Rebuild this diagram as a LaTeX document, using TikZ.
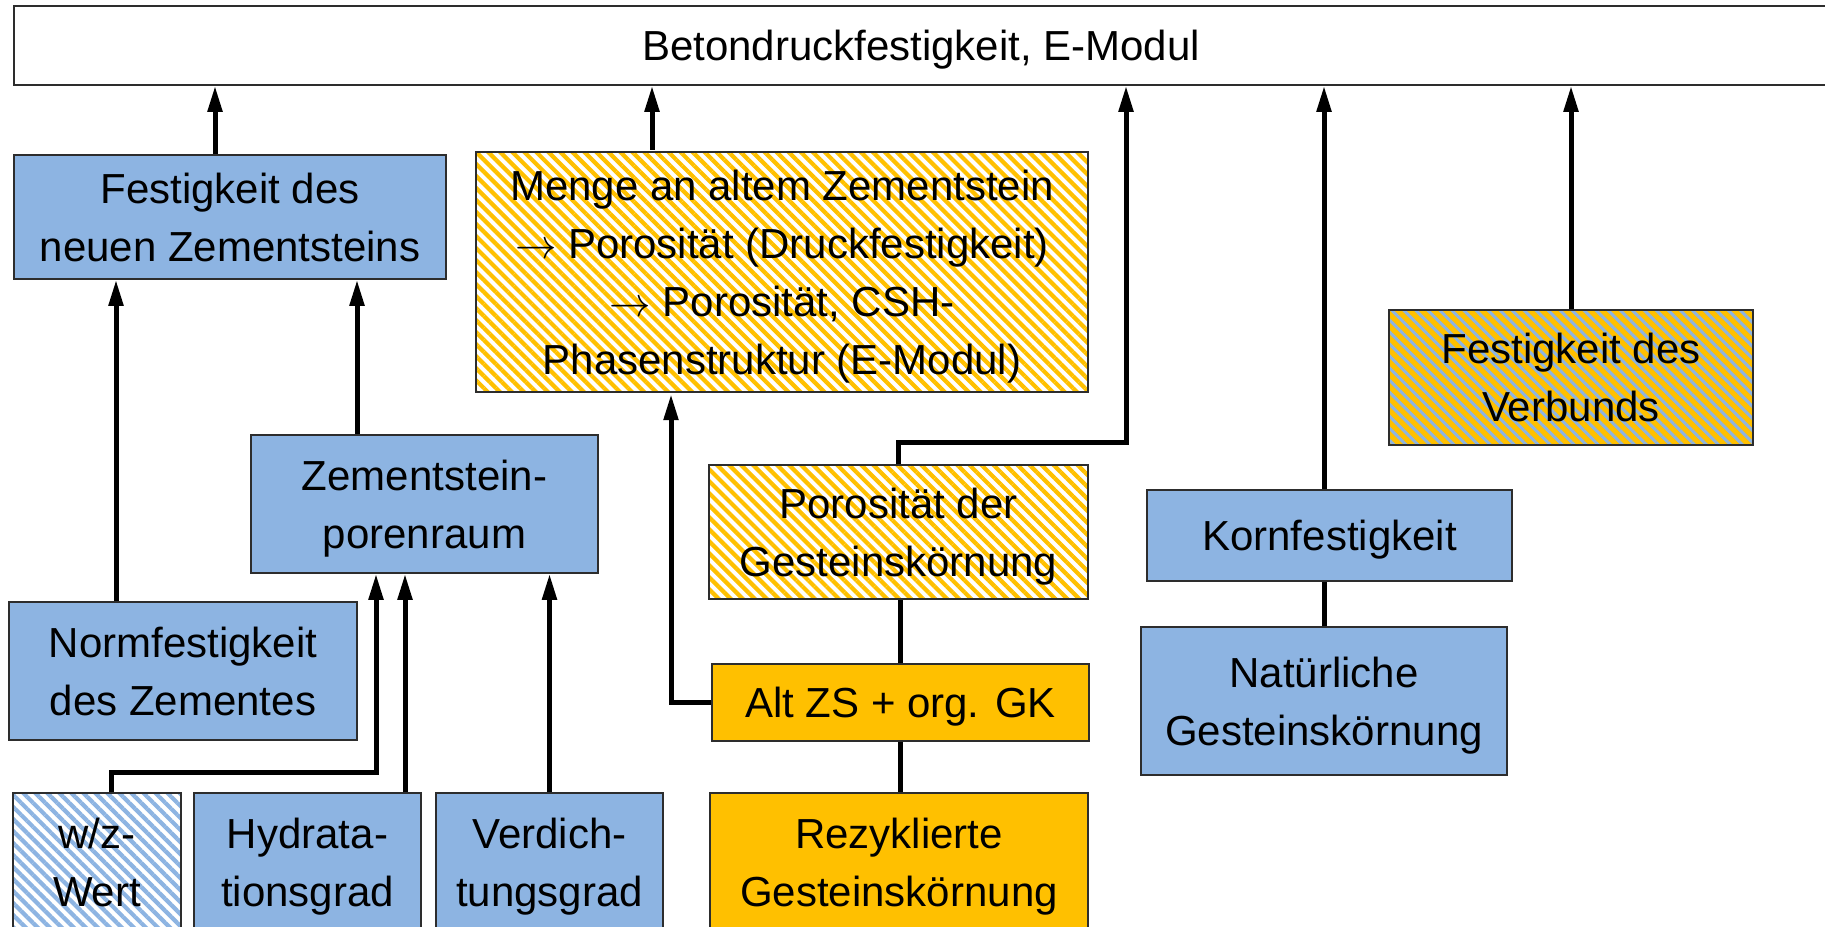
\documentclass[tikz,border=0pt]{standalone}
\usepackage{fontspec}
\setmainfont{Liberation Sans}
\usetikzlibrary{arrows.meta,patterns.meta}
\definecolor{blau}{RGB}{141,180,226}
\definecolor{gelb}{RGB}{255,192,0}
\definecolor{rahmen}{RGB}{45,45,45}

\begin{document}
\begin{tikzpicture}[x=0.5pt,y=-0.5pt,
	kasten/.style={draw=rahmen,line width=0.75pt,inner sep=0pt,align=center,text depth=0pt,font=\fontsize{21}{29}\selectfont},
	blaukasten/.style={kasten,fill=blau},
	gelbkasten/.style={kasten,fill=gelb},
	gelbschraffur/.style={kasten,preaction={fill=white},pattern={Lines[angle=-45,distance=4.25pt,line width=2.1pt]},pattern color=gelb},
	blauschraffur/.style={kasten,preaction={fill=white},pattern={Lines[angle=-45,distance=4.25pt,line width=2.1pt]},pattern color=blau},
	mischschraffur/.style={kasten,preaction={fill=gelb},pattern={Lines[angle=-45,distance=4.25pt,line width=1.5pt]},pattern color=blau},
	pfeil/.style={line width=2.5pt,-{Triangle[length=13pt,width=7pt]}},
	linie/.style={line width=2.5pt}]
	\useasboundingbox (0,0) rectangle (1825,926);
	
	%Shape: Rectangle [top]
	\node[kasten,minimum width=907pt,minimum height=39.5pt] (beton) at (921,45.5) {Betondruckfestigkeit, E-Modul};
	
	%Shape: Rectangle [row 1]
	\node[blaukasten,minimum width=216pt,minimum height=62pt] (neu) at (230,217) {Festigkeit des\\neuen Zementsteins};
	\node[gelbschraffur,minimum width=306pt,minimum height=120pt] (menge) at (782,272) {Menge an altem Zementstein\\$\rightarrow$ Porosität (Druckfestigkeit)\\$\rightarrow$ Porosität, CSH-\\Phasenstruktur (E-Modul)};
	\node[mischschraffur,minimum width=182pt,minimum height=67.5pt] (verbund) at (1571,377.5) {Festigkeit des\\Verbunds};
	
	%Shape: Rectangle [row 2]
	\node[blaukasten,minimum width=173.5pt,minimum height=69pt] (poren) at (424.5,504) {Zementstein-\\porenraum};
	\node[gelbschraffur,minimum width=189.5pt,minimum height=67pt] (poros) at (898.5,532) {Porosität der\\Gesteinskörnung};
	\node[blaukasten,minimum width=182.5pt,minimum height=45.5pt] (korn) at (1329.5,535.5) {Kornfestigkeit};
	
	%Shape: Rectangle [row 3]
	\node[blaukasten,minimum width=174pt,minimum height=69pt] (norm) at (183,671) {Normfestigkeit\\des Zementes};
	\node[gelbkasten,minimum width=188.5pt,minimum height=38.5pt] (altzs) at (900.5,702.5) {Alt ZS + org. GK};
	\node[blaukasten,minimum width=183pt,minimum height=74pt] (natur) at (1324,701) {Natürliche\\Gesteinskörnung};
	
	%Shape: Rectangle [row 4]
	\node[blauschraffur,minimum width=84pt,minimum height=69pt] (wz) at (97,862) {w/z-\\Wert};
	\node[blaukasten,minimum width=113.5pt,minimum height=69pt] (hydra) at (307.5,862) {Hydrata-\\tionsgrad};
	\node[blaukasten,minimum width=113.5pt,minimum height=69pt] (verd) at (549.5,862) {Verdich-\\tungsgrad};
	\node[gelbkasten,minimum width=189pt,minimum height=69pt] (rezyk) at (899,862) {Rezyklierte\\Gesteinskörnung};
	
	%Straight Lines [to top]
	\draw[pfeil] ([xshift=-7.5pt]neu.north) -- ([xshift=-7.5pt]neu.north |- beton.south);
	\draw[pfeil] ([xshift=-65pt]menge.north) -- ([xshift=-65pt]menge.north |- beton.south);
	\coordinate (porosknick) at (1126,442);
	\draw[pfeil] (poros.north) |- (porosknick) -- (porosknick |- beton.south);
	\draw[pfeil] (korn.north -| natur.north) -- (natur.north |- beton.south);
	\draw[pfeil] (verbund.north) -- (verbund.north |- beton.south);
	
	%Straight Lines [cement paste]
	\draw[pfeil] ([xshift=-33.75pt]poren.north) -- ([xshift=-33.75pt]poren.north |- neu.south);
	\draw[pfeil] ([xshift=-33.5pt]norm.north) -- ([xshift=-33.5pt]norm.north |- neu.south);
	\coordinate (wzknick) at (111,772);
	\draw[pfeil] (wz.north -| wzknick) -- (wzknick) -| ([xshift=-24.25pt]poren.south);
	\draw[pfeil] ([xshift=48.75pt]hydra.north) -- ([xshift=48.75pt]hydra.north |- poren.south);
	\draw[pfeil] (verd.north) -- (verd.north |- poren.south);
	
	%Straight Lines [aggregate]
	\draw[linie] (altzs.north) -- (altzs.north |- poros.south);
	\draw[linie] (altzs.south) -- (altzs.south |- rezyk.north);
	\draw[pfeil] (altzs.west) -| ([xshift=-55.5pt]menge.south);
	\draw[linie] (natur.north) -- (natur.north |- korn.south);
	
\end{tikzpicture}
\end{document}
